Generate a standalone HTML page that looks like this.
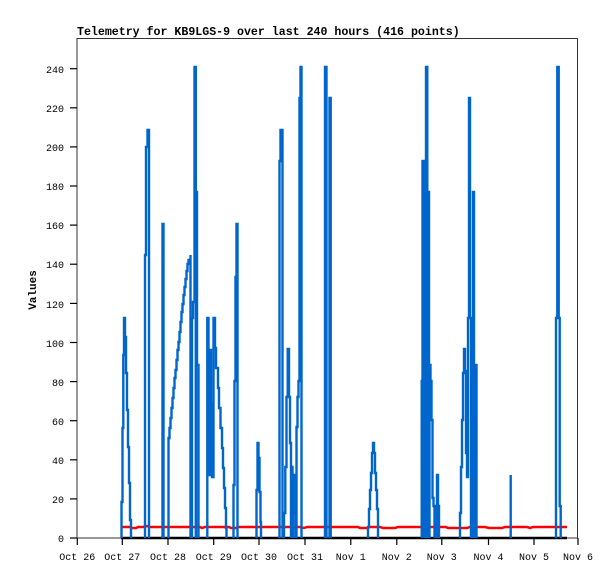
<!DOCTYPE html>
<html><head><meta charset="utf-8"><style>
html,body{margin:0;padding:0;background:#fff}
svg{display:block}
text{font-family:"Liberation Mono",monospace;fill:#000}
</style></head><body>
<svg width="615" height="579" viewBox="0 0 615 579" xmlns="http://www.w3.org/2000/svg">
<rect width="615" height="579" fill="#fff"/>
<text x="77" y="35" font-size="11.6" font-weight="bold">Telemetry for KB9LGS-9 over last 240 hours (416 points)</text>
<rect x="77" y="38.5" width="500.5" height="499.5" fill="none" stroke="#333" stroke-width="1"/>
<g stroke="#000" stroke-width="1.2">
<line x1="70" y1="538" x2="77" y2="538"/><line x1="70" y1="498.9" x2="77" y2="498.9"/><line x1="70" y1="459.8" x2="77" y2="459.8"/><line x1="70" y1="420.7" x2="77" y2="420.7"/><line x1="70" y1="381.6" x2="77" y2="381.6"/><line x1="70" y1="342.5" x2="77" y2="342.5"/><line x1="70" y1="303.4" x2="77" y2="303.4"/><line x1="70" y1="264.2" x2="77" y2="264.2"/><line x1="70" y1="225.1" x2="77" y2="225.1"/><line x1="70" y1="186" x2="77" y2="186"/><line x1="70" y1="146.9" x2="77" y2="146.9"/><line x1="70" y1="107.8" x2="77" y2="107.8"/><line x1="70" y1="68.7" x2="77" y2="68.7"/>
<line x1="77.3" y1="538" x2="77.3" y2="545"/><line x1="122.3" y1="538" x2="122.3" y2="545"/><line x1="168" y1="538" x2="168" y2="545"/><line x1="213.7" y1="538" x2="213.7" y2="545"/><line x1="259" y1="538" x2="259" y2="545"/><line x1="305" y1="538" x2="305" y2="545"/><line x1="350.8" y1="538" x2="350.8" y2="545"/><line x1="396.8" y1="538" x2="396.8" y2="545"/><line x1="441.8" y1="538" x2="441.8" y2="545"/><line x1="488.5" y1="538" x2="488.5" y2="545"/><line x1="534" y1="538" x2="534" y2="545"/><line x1="578" y1="538" x2="578" y2="545"/>
</g>
<g font-size="10" text-anchor="end">
<text x="64" y="542">0</text><text x="64" y="503">20</text><text x="64" y="464">40</text><text x="64" y="425">60</text><text x="64" y="386">80</text><text x="64" y="347">100</text><text x="64" y="308">120</text><text x="64" y="268">140</text><text x="64" y="229">160</text><text x="64" y="190">180</text><text x="64" y="151">200</text><text x="64" y="112">220</text><text x="64" y="73">240</text>
</g>
<g font-size="10" text-anchor="middle">
<text x="77.3" y="560">Oct 26</text><text x="122.3" y="560">Oct 27</text><text x="168" y="560">Oct 28</text><text x="213.7" y="560">Oct 29</text><text x="259" y="560">Oct 30</text><text x="305" y="560">Oct 31</text><text x="350.8" y="560">Nov 1</text><text x="396.8" y="560">Nov 2</text><text x="441.8" y="560">Nov 3</text><text x="488.5" y="560">Nov 4</text><text x="534" y="560">Nov 5</text><text x="578" y="560">Nov 6</text>
</g>
<text transform="translate(36,290) rotate(-90)" font-size="11" font-weight="bold" text-anchor="middle">Values</text>
<line x1="121" y1="538" x2="567" y2="538" stroke="#000" stroke-width="2.5"/>
<polyline fill="none" stroke="#f00" stroke-width="2.5" points="121,527 126,527 130,527 132,528 136,528 138,527 143,527 147,526 150,527 200,527 202,528 205,527 229,527 231,528 236,528 238,527 300,527 304,528 307,527 320,527 343,527 358,527 360,528 367,528 370,527 380,527 383,528 395,528 398,527 446,527 448,528 467,528 470,527 485,527 489,528 502,528 505,527 527,527 530,528 533,527 567,527"/>
<g fill="none" stroke="#0066cc" stroke-width="2.4">
<path d="M121.5,538 V502 H122.5 V428 H123.3 V355 H124 V318 H125 V337 H126 V373 H127 V410 H128 V447 H129 V483 H130 V520 H131 V538"/>
<path d="M145,538 V255 H146 V147 H147.5 V130 H149 V538"/>
<path d="M162.5,538 V224 H163.5 V538"/>
<path d="M168.5,538 V438 H169.5 V428 H170.5 V418 H171.5 V408 H172.5 V398 H173.5 V388 H174.5 V378 H175.5 V370 H176.5 V360 H177.5 V350 H178.5 V342 H179.5 V332 H180.5 V322 H181.5 V312 H182.5 V304 H183.5 V295 H184.5 V287 H185.5 V279 H186.5 V271 H187.5 V264 H188.5 V260 H190.5 V255 V538 M192,538 V318 H193 V302 H194.5 V67 H195.8 V538 M196,538 V192 H197 V365 H198.5 V538"/>
<path d="M207.3,538 V318 H208.5 V475 H210 V350 H211 V403 H212 V477 H213.5 V318 H215 V348 H216 V368 H218 V388 H219 V408 H220.5 V428 H222 V448 H223 V468 H224 V488 H225 V508 H226 V528 H226.5 V538"/>
<path d="M233.5,538 V485 H234.5 V381 H235.5 V277 H236.5 V224 H237.5 V538"/>
<path d="M256.5,538 V490 H257.5 V443 H258.5 V458 H259.5 V492 H260.5 V522 H261 V538"/>
<path d="M279.5,538 V161 H280.5 V130 H282.5 V538"/>
<path d="M284,538 V513 H285.3 V467 H286.5 V397 H287.7 V349 H289 V397 H290 V443 H291 V538 M291.5,538 V467 H292.5 V513 H293 V538 M293.5,538 V475 H294.5 V492 H295.5 V513 H296 V538 M296.5,538 V427 H297.5 V397 H298.5 V381 H299.5 V98 H300.5 V67 H301.5 V538"/>
<path d="M325,538 V67 H326.5 V538 M329.5,538 V98 H330.7 V538"/>
<path d="M368,538 V527 H369 V509 H370 V490 H371 V473 H372 V453 H373 V443 H374 V453 H375 V473 H376 V490 H377 V509 H378 V538"/>
<path d="M421.7,538 V381 H422.5 V161 H424 V538 M425,538 V302 H426 V67 H427.3 V538 M428,538 V192 H429 V538 M429.5,538 V365 H430.5 V381 H431.5 V420 H432.5 V498 H433.5 V506 H434.5 V538 M435,538 V506 H436 V538 M437,538 V475 H438 V506 H439 V538"/>
<path d="M460,538 V513 H461 V467 H462 V420 H463 V373 H464 V349 H465 V371 H466 V453 H467 V477 H468 V318 H469 V98 H470 V318 H471 V538 M471.5,538 V365 H472.5 V538 M473,538 V192 H474 V365 H475 V538 M475.5,538 V365 H476.5 V538"/>
<path d="M510.7,538 V475"/>
<path d="M556,538 V318 H557.3 V67 H558.7 V318 H559.7 V506 H560.7 V538"/>
</g>
</svg>
</body></html>
